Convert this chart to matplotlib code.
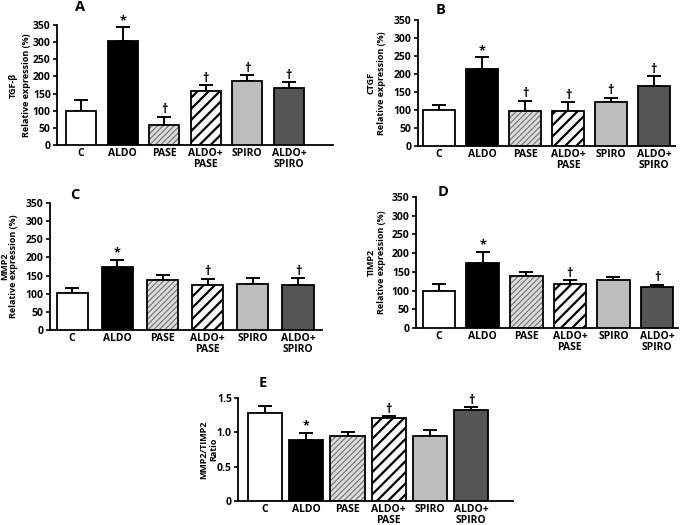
import matplotlib
matplotlib.use("Agg")
import matplotlib.pyplot as plt

plt.rcParams["font.family"] = ["Open Sans", "DejaVu Sans"]
plt.rcParams["font.weight"] = "bold"

groups = ["C", "ALDO", "PASE", "ALDO+\nPASE", "SPIRO", "ALDO+\nSPIRO"]

tgf_mean = [100, 303, 57, 157, 188, 165]
tgf_err = [32, 40, 26, 17, 15, 18]
tgf_marks = ["", "*", "†", "†", "†", "†"]

ctgf_mean = [100, 215, 98, 98, 122, 167]
ctgf_err = [15, 31, 28, 23, 12, 27]
ctgf_marks = ["", "*", "†", "†", "†", "†"]

mmp2_mean = [103, 173, 137, 124, 128, 124]
mmp2_err = [14, 21, 14, 17, 15, 19]
mmp2_marks = ["", "*", "", "†", "", "†"]

timp2_mean = [100, 173, 140, 117, 127, 110]
timp2_err = [18, 31, 10, 10, 8, 6]
timp2_marks = ["", "*", "", "†", "", "†"]

ratio_mean = [1.28, 0.89, 0.94, 1.21, 0.94, 1.32]
ratio_err = [0.11, 0.10, 0.07, 0.03, 0.09, 0.05]
ratio_marks = ["", "*", "", "†", "", "†"]

# bar styles: (facecolor, hatch, hatch colour)
styles = [
    ("white", None, None),
    ("black", None, None),
    ("#dcdcdc", "//////", "#707070"),
    ("white", "///", "black"),
    ("#bdbdbd", None, None),
    ("#555555", None, None),
]

W, H = 687, 525
fig = plt.figure(figsize=(6.87, 5.25), dpi=100)


def panel(px, letter, letter_xy, means, errs, marks, ylabel_lines, label_x,
          yticks, yticklabels, ylim, xlim, width, fs=7.5, lfs=6.5):
    # px = (left, top, right, bottom) in pixels
    l, t, r, b = px
    ax = fig.add_axes([l / W, 1 - b / H, (r - l) / W, (b - t) / H])
    xs = list(range(len(means)))
    for x, m, (fc, hatch, hc) in zip(xs, means, styles):
        if hatch:
            with plt.rc_context({"hatch.linewidth": 1.6 if hc == "black" else 0.8}):
                ax.bar(x, m, width=width, color=fc, hatch=hatch, edgecolor=hc,
                       linewidth=0, zorder=2)
            ax.bar(x, m, width=width, fill=False, edgecolor="black",
                   linewidth=1.3, zorder=3)
        else:
            ax.bar(x, m, width=width, color=fc, edgecolor="black",
                   linewidth=1.3, zorder=3)
    ax.errorbar(xs, means, yerr=[[0] * len(errs), errs], fmt="none",
                ecolor="black", elinewidth=1.4, capsize=5, capthick=1.4, zorder=1)
    span = ylim[1] - ylim[0]
    for x, m, e, s in zip(xs, means, errs, marks):
        if s:
            ax.text(x, m + e + span * 0.003, s, ha="center", va="bottom",
                    fontsize=9, fontweight="bold")
    ax.set_ylim(*ylim)
    ax.set_xlim(*xlim)
    ax.set_yticks(yticks)
    ax.set_yticklabels(yticklabels, fontsize=fs, fontweight="bold")
    ax.set_xticks(xs)
    ax.set_xticklabels(groups, fontsize=fs, fontweight="bold", linespacing=1.0)
    ax.tick_params(axis="x", length=0, pad=2.5)
    ax.tick_params(axis="y", length=3, width=1.2, pad=1.5)
    for side in ("top", "right"):
        ax.spines[side].set_visible(False)
    for side in ("left", "bottom"):
        ax.spines[side].set_linewidth(1.3)
    yc = 1 - (t + b) / 2 / H
    for line, lx in zip(ylabel_lines, label_x):
        fig.text(lx / W, yc, line, rotation=90, ha="center", va="center",
                 fontsize=lfs, fontweight="bold")
    fig.text(letter_xy[0] / W, 1 - letter_xy[1] / H, letter, fontsize=10.5,
             fontweight="bold", ha="center", va="center")
    return ax


ticks350 = [0, 50, 100, 150, 200, 250, 300, 350]
labels350 = [str(t) for t in ticks350]

panel((57, 25, 333, 145), "A", (80, 7),
      tgf_mean, tgf_err, tgf_marks, ["TGF-β", "Relative expression (%)"], (13, 27),
      ticks350, labels350, (0, 350), (-0.58, 6.06), 0.72)

panel((418, 20, 675, 146), "B", (441, 10),
      ctgf_mean, ctgf_err, ctgf_marks, ["CTGF", "Relative expression (%)"], (371, 381),
      ticks350, labels350, (0, 350), (-0.49, 5.49), 0.74)

panel((50, 203, 322, 330), "C", (75, 195),
      mmp2_mean, mmp2_err, mmp2_marks, ["MMP2", "Relative expression (%)"], (5, 14),
      ticks350, labels350, (0, 350), (-0.49, 5.53), 0.69)

panel((416, 197, 678, 328), "D", (443, 192),
      timp2_mean, timp2_err, timp2_marks, ["TIMP2", "Relative expression (%)"], (371, 381),
      ticks350, labels350, (0, 350), (-0.53, 5.48), 0.75)

panel((238, 398, 513, 501), "E", (263, 383),
      ratio_mean, ratio_err, ratio_marks, ["MMP2/TIMP2", "Ratio"], (204, 214),
      [0, 0.5, 1.0, 1.5], ["0", "0.5", "1.0", "1.5"], (0, 1.5), (-0.66, 6.02), 0.83)

fig.savefig("out.png", dpi=100)
